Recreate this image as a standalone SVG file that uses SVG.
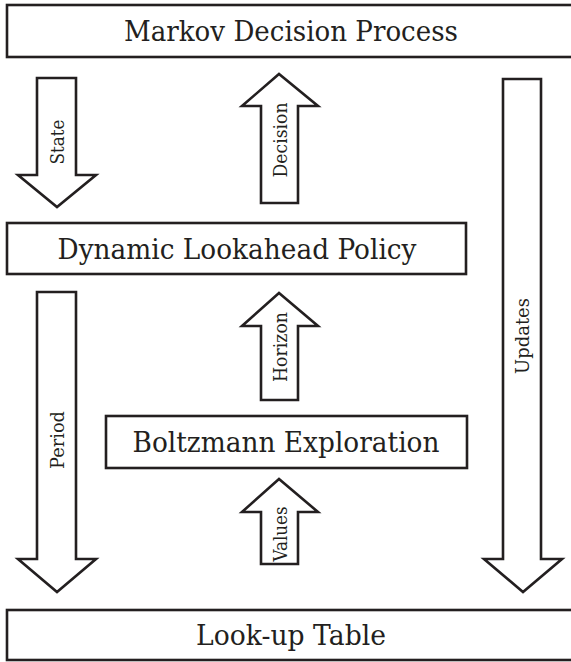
<svg xmlns="http://www.w3.org/2000/svg" width="571" height="662" viewBox="0 0 571 662">
<style>
.box{fill:#fff;stroke:#231f20;stroke-width:2.6}
.arr{fill:#fff;stroke:#231f20;stroke-width:2.6;stroke-linejoin:miter}
.t{font-family:"DejaVu Serif","Liberation Serif",serif;font-size:27px;fill:#231f20;text-anchor:middle;dominant-baseline:central}
.l{font-family:"DejaVu Serif","Liberation Serif",serif;font-size:18px;fill:#231f20;text-anchor:middle;dominant-baseline:central}
</style>
<rect width="571" height="662" fill="#fff"/>
<g id="connectors">
<g id="state">
<polygon class="arr" points="37,78 76,78 76,175 96,175 57,207 18,175 37,175"/>
<text class="l" transform="translate(57,142) rotate(-90)" textLength="45" lengthAdjust="spacingAndGlyphs">State</text>
</g>
<g id="decision">
<polygon class="arr" points="261,203 298,203 298,106 318,106 279,74 242,106 261,106"/>
<text class="l" transform="translate(280,140) rotate(-90)" textLength="75" lengthAdjust="spacingAndGlyphs">Decision</text>
</g>
<g id="horizon">
<polygon class="arr" points="261,400 298,400 298,326 318,326 279,293 242,326 261,326"/>
<text class="l" transform="translate(280,347) rotate(-90)" textLength="70" lengthAdjust="spacingAndGlyphs">Horizon</text>
</g>
<g id="values">
<polygon class="arr" points="261,564 298,564 298,512 318,512 279,479 242,512 261,512"/>
<text class="l" transform="translate(280,534) rotate(-90)" textLength="55" lengthAdjust="spacingAndGlyphs">Values</text>
</g>
<g id="period">
<polygon class="arr" points="37,292 76,292 76,559 96,559 57,592 18,559 37,559"/>
<text class="l" transform="translate(57,440) rotate(-90)" textLength="58" lengthAdjust="spacingAndGlyphs">Period</text>
</g>
<g id="updates">
<polygon class="arr" points="503,79 541,79 541,559 562,559 523,592 484,559 503,559"/>
<text class="l" transform="translate(522,336) rotate(-90)" textLength="76" lengthAdjust="spacingAndGlyphs">Updates</text>
</g>
</g>
<g id="mdp">
<rect class="box" x="7" y="5" width="570" height="52"/>
<text class="t" x="291" y="31" textLength="334" lengthAdjust="spacingAndGlyphs">Markov Decision Process</text>
</g>
<g id="dlp">
<rect class="box" x="7" y="223" width="459" height="51"/>
<text class="t" x="237" y="249" textLength="359" lengthAdjust="spacingAndGlyphs">Dynamic Lookahead Policy</text>
</g>
<g id="boltzmann">
<rect class="box" x="106" y="416" width="361" height="52"/>
<text class="t" x="286" y="442" textLength="307" lengthAdjust="spacingAndGlyphs">Boltzmann Exploration</text>
</g>
<g id="lookup">
<rect class="box" x="7" y="610" width="570" height="50"/>
<text class="t" x="291" y="635" textLength="190" lengthAdjust="spacingAndGlyphs">Look-up Table</text>
</g>
</svg>
